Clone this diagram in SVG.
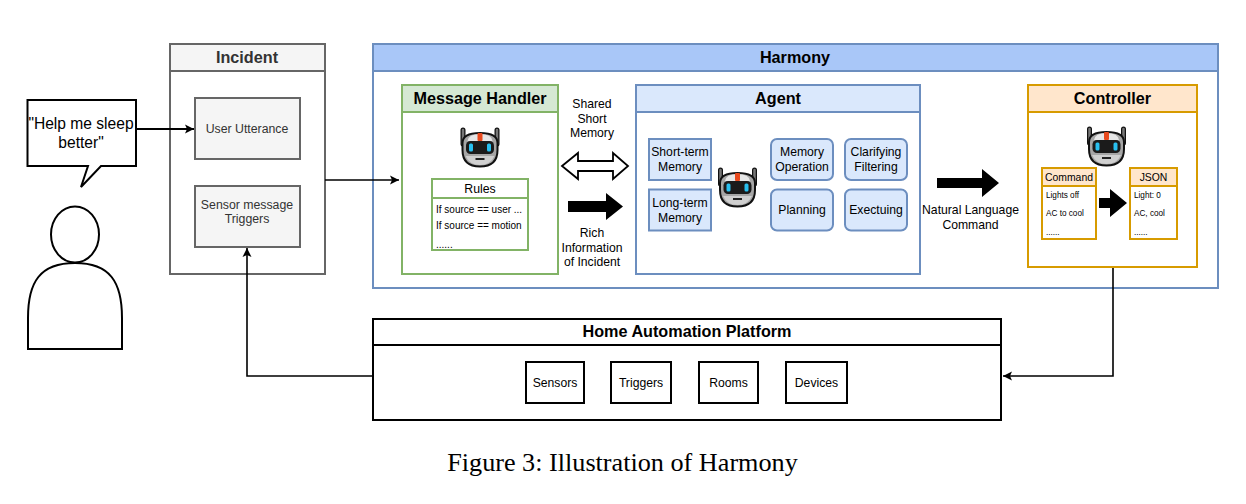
<svg xmlns="http://www.w3.org/2000/svg" width="1246" height="504" viewBox="0 0 1246 504">
<style>
text{font-family:"Liberation Sans",Arial,sans-serif;text-anchor:middle;fill:#000}
.t{font-size:16.200px;font-weight:bold}
.tg{font-size:16.200px;font-weight:bold;fill:#333}
.m{font-size:12.200px}
.g{font-size:12.300px;fill:#333}
.s{font-size:8.200px;text-anchor:start}
.r{font-size:10px;text-anchor:start}
.gr{fill:#f5f5f5;stroke:#666;stroke-width:2}
.wg{fill:#fff;stroke:#666;stroke-width:2}
.bl{fill:#dae8fc;stroke:#6c8ebf;stroke-width:2}
.wb{fill:#fff;stroke:#6c8ebf;stroke-width:2}
.hb{fill:#a9c7f8;stroke:#6c8ebf;stroke-width:2}
.gn{fill:#d5e8d4;stroke:#82b366;stroke-width:2}
.wn{fill:#fff;stroke:#82b366;stroke-width:2}
.or{fill:#ffe6cc;stroke:#d79b00;stroke-width:2}
.wo{fill:#fff;stroke:#d79b00;stroke-width:2}
.k{fill:#fff;stroke:#000;stroke-width:2}
.c{fill:none;stroke:#000;stroke-width:1.600}
</style>
<defs>
<marker id="ah" markerUnits="userSpaceOnUse" markerWidth="11" markerHeight="10" refX="9" refY="5" orient="auto"><path d="M0 0.500L9 5L0 9.500L2 5Z" fill="#000"/></marker>
<symbol id="robot" viewBox="0 0 41 41" overflow="visible">
<path d="M3.500 18V4M37.500 18V4" stroke="#111" stroke-width="5" stroke-linecap="round" fill="none"/>
<path d="M3.500 18V4M37.500 18V4" stroke="#777" stroke-width="2.500" stroke-linecap="round" fill="none"/>
<path d="M3 17Q3 7 20.500 7T38 17V24Q38 40.500 20.500 40.500T3 24Z" fill="#a6a6a6" stroke="#111" stroke-width="2"/>
<path d="M8 15Q9 8 20.500 8T33 15Z" fill="#e6e6e6"/>
<rect x="18" y="7" width="5" height="8" rx="1" fill="#e8491d"/>
<path d="M6 30Q10 39 20.500 39T35 30Z" fill="#d0d0d0"/>
<rect x="6.500" y="15" width="28" height="13" rx="4.500" fill="#1b1b1b"/>
<rect x="9.500" y="17.500" width="4" height="8" rx="1.500" fill="#29c0f0"/><rect x="27.500" y="17.500" width="4" height="8" rx="1.500" fill="#29c0f0"/>
<path d="M16 33H25" stroke="#222" stroke-width="2"/>
</symbol>
</defs>

<g id="user">
<ellipse cx="75" cy="234.500" rx="24" ry="28" fill="#fff" stroke="#000" stroke-width="2"/>
<path d="M28 349V318C28 282 40 263 75 263C110 263 122 282 122 318V349Z" fill="#fff" stroke="#000" stroke-width="2"/>
</g>

<g id="speech-bubble">
<path d="M27.500 100H136V166H101L81 187L88 166H27.500Z" fill="#fff" stroke="#000" stroke-width="2"/>
<text x="81" y="129" font-size="15.600">"Help me sleep</text>
<text x="81" y="148" font-size="15.600">better"</text>
</g>

<g id="incident">
<rect class="wg" x="170" y="44" width="155" height="230"/>
<rect class="gr" x="170" y="44" width="155" height="27"/>
<text class="tg" x="247" y="63">Incident</text>
</g>
<g id="user-utterance">
<rect class="gr" x="195" y="98" width="105" height="61"/>
<text class="g" x="247" y="133">User Utterance</text>
</g>
<g id="sensor-message">
<rect class="gr" x="195" y="186" width="105" height="61"/>
<text class="g" x="247" y="209">Sensor message</text>
<text class="g" x="247" y="223">Triggers</text>
</g>

<g id="harmony">
<rect class="wb" x="373" y="44" width="845" height="244"/>
<rect class="hb" x="373" y="44" width="845" height="27"/>
<text class="t" x="795" y="63">Harmony</text>
</g>

<g id="message-handler">
<rect class="wn" x="402" y="85" width="156" height="189"/>
<rect class="gn" x="402" y="85" width="156" height="27"/>
<text class="t" x="480" y="104">Message Handler</text>
<use href="#robot" x="459.500" y="126" width="41" height="41"/>
</g>
<g id="rules">
<rect class="wn" x="432" y="179" width="96" height="71"/>
<rect class="wn" x="432" y="179" width="96" height="19"/>
<text x="480" y="193" font-size="12.300">Rules</text>
<text class="r" x="436" y="213">If source == user ...</text>
<text class="r" x="436" y="229">If source == motion</text>
<text class="r" x="436" y="248">......</text>
</g>

<g id="shared-memory">
<text class="m" x="592" y="108">Shared</text>
<text class="m" x="592" y="123">Short</text>
<text class="m" x="592" y="137">Memory</text>
<path d="M562 166L578 153V161H613V153L628 166L613 179V171H578V179Z" fill="#fff" stroke="#000" stroke-width="1.800"/>
</g>
<g id="rich-information">
<path d="M568 201H606V193L623 206.500L606 220V212H568Z" fill="#000"/>
<text class="m" x="592" y="237">Rich</text>
<text class="m" x="592" y="252">Information</text>
<text class="m" x="592" y="266">of Incident</text>
</g>

<g id="agent">
<rect class="wb" x="636" y="85" width="284" height="189"/>
<rect class="bl" x="636" y="85" width="284" height="27"/>
<text class="t" x="778" y="104">Agent</text>
<use href="#robot" x="717" y="166" width="41" height="41"/>
</g>
<g id="short-term-memory"><rect class="bl" x="649" y="139" width="62" height="41"/><text class="m" x="680" y="156">Short-term</text><text class="m" x="680" y="171">Memory</text></g>
<g id="long-term-memory"><rect class="bl" x="649" y="189.500" width="62" height="41"/><text class="m" x="680" y="207">Long-term</text><text class="m" x="680" y="222">Memory</text></g>
<g id="memory-operation"><rect class="bl" x="771" y="139" width="62" height="41" rx="6"/><text class="m" x="802" y="156">Memory</text><text class="m" x="802" y="171">Operation</text></g>
<g id="clarifying-filtering"><rect class="bl" x="845" y="139" width="62" height="41" rx="6"/><text class="m" x="876" y="156">Clarifying</text><text class="m" x="876" y="171">Filtering</text></g>
<g id="planning"><rect class="bl" x="771" y="189.500" width="62" height="41" rx="6"/><text class="m" x="802" y="214">Planning</text></g>
<g id="executing"><rect class="bl" x="845" y="189.500" width="62" height="41" rx="6"/><text class="m" x="876" y="214">Exectuing</text></g>

<g id="natural-language">
<path d="M937 178H982V169L999 183L982 197V188H937Z" fill="#000"/>
<text class="m" x="970.500" y="214">Natural Language</text>
<text class="m" x="970.500" y="229">Command</text>
</g>

<g id="controller">
<rect class="wo" x="1028" y="85" width="169" height="182"/>
<rect class="or" x="1028" y="85" width="169" height="27"/>
<text class="t" x="1112.500" y="104">Controller</text>
<use href="#robot" x="1086" y="125" width="41" height="41"/>
</g>
<g id="command">
<rect class="wo" x="1042" y="168" width="54" height="71"/>
<rect class="or" x="1042" y="168" width="54" height="18"/>
<text x="1069" y="181" font-size="10.400">Command</text>
<text class="s" x="1046" y="198">Lights off</text>
<text class="s" x="1046" y="216">AC to cool</text>
<text class="s" x="1046" y="235">......</text>
</g>
<path id="command-arrow" d="M1099 198H1110V189L1127 203L1110 217V208H1099Z" fill="#000"/>
<g id="json">
<rect class="wo" x="1130" y="168" width="47" height="71"/>
<rect class="or" x="1130" y="168" width="47" height="18"/>
<text x="1153.500" y="181" font-size="10.400">JSON</text>
<text class="s" x="1134" y="198">Light: 0</text>
<text class="s" x="1134" y="216">AC, cool</text>
<text class="s" x="1134" y="235">......</text>
</g>

<g id="home-automation-platform">
<rect class="k" x="373" y="319" width="628" height="101"/>
<rect class="k" x="373" y="319" width="628" height="26"/>
<text x="687" y="337" font-size="16.200" font-weight="bold">Home Automation Platform</text>
</g>
<g id="sensors"><rect class="k" x="526" y="362" width="58" height="41"/><text class="m" x="555" y="387">Sensors</text></g>
<g id="triggers"><rect class="k" x="611" y="362" width="60" height="41"/><text class="m" x="641" y="387">Triggers</text></g>
<g id="rooms"><rect class="k" x="699" y="362" width="59" height="41"/><text class="m" x="728.500" y="387">Rooms</text></g>
<g id="devices"><rect class="k" x="786" y="362" width="61" height="41"/><text class="m" x="816.500" y="387">Devices</text></g>

<g id="connectors">
<path class="c" d="M137 129H194" stroke-width="2" style="stroke-width:2" marker-end="url(#ah)"/>
<path class="c" d="M325 180H399" marker-end="url(#ah)"/>
<path class="c" d="M1113 268V376H1003" marker-end="url(#ah)"/>
<path class="c" d="M373 376H247V248" marker-end="url(#ah)"/>
</g>

<text id="caption" x="622.500" y="470.500" style="font-family:'Liberation Serif','Times New Roman',serif;font-size:26.200px">Figure 3: Illustration of Harmony</text>
</svg>
